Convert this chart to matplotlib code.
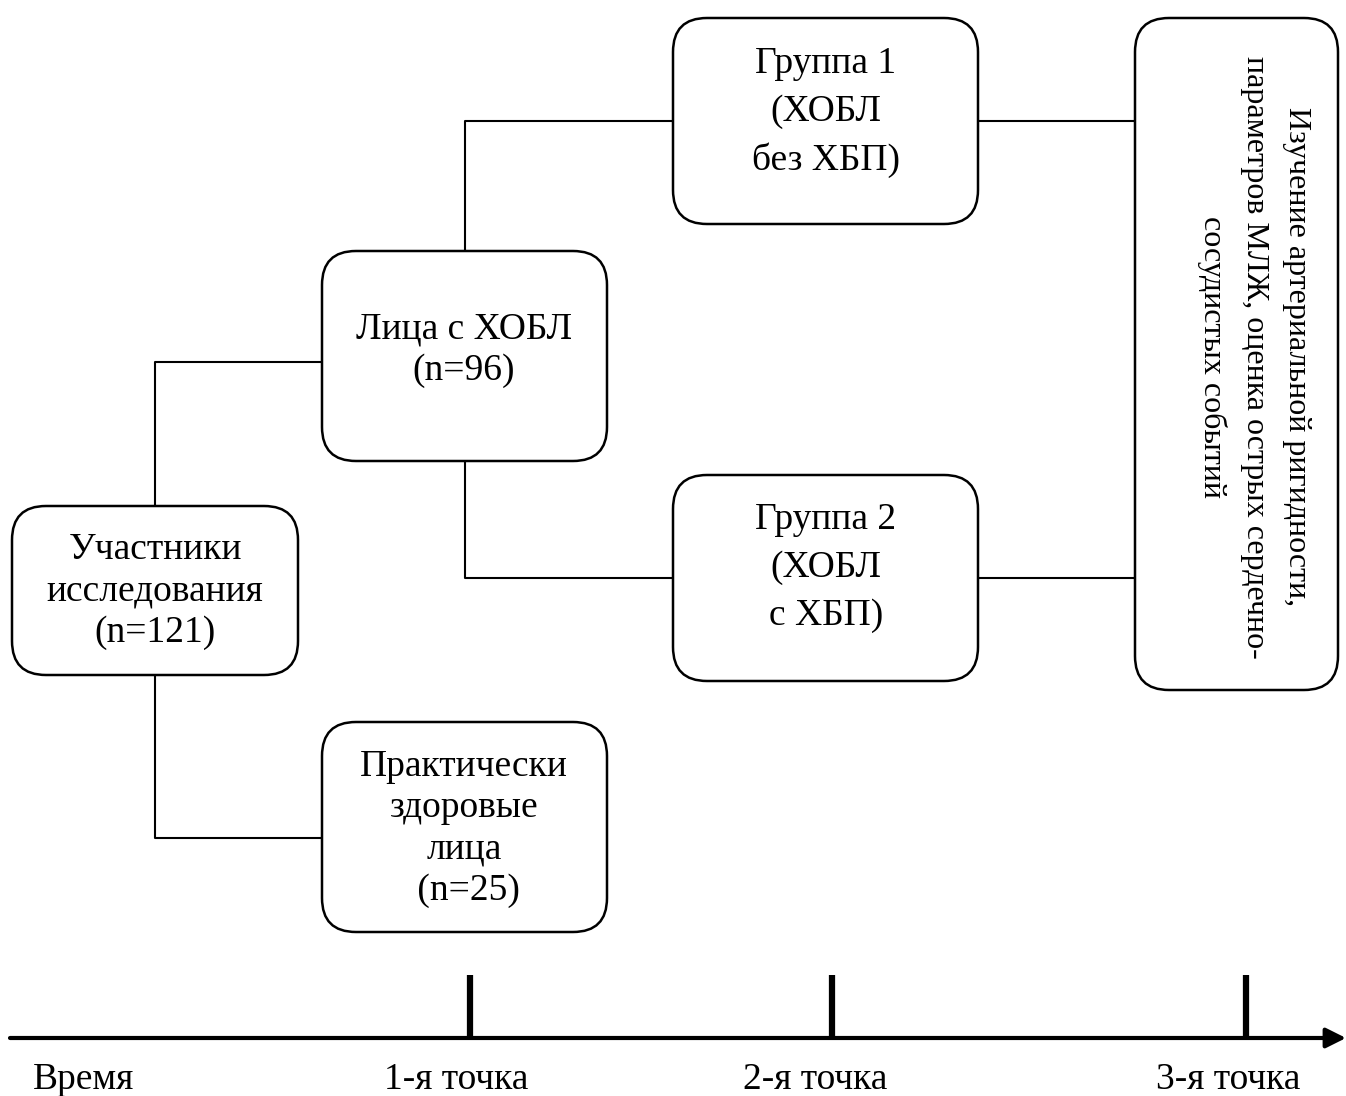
import matplotlib
matplotlib.use("Agg")
import matplotlib.pyplot as plt
from matplotlib.patches import FancyBboxPatch, FancyArrowPatch

plt.rcParams['font.family'] = ['Liberation Serif', 'DejaVu Serif']

# Box labels
box_labels = [
    "Участники\nисследования\n(n=121)",
    "Лица с ХОБЛ\n(n=96)",
    "Практически\nздоровые\nлица\n (n=25)",
    "Группа 1\n(ХОБЛ\nбез ХБП)",
    "Группа 2\n(ХОБЛ\nс ХБП)",
]
final_label = ("Изучение артериальной ригидности,\n"
               "параметров МЛЖ, оценка острых сердечно-\n"
               "сосудистых событий")
time_labels = ["Время", "1-я точка", "2-я точка", "3-я точка"]

# Layout (pixel coordinates: x0, y0, x1, y1), last-line baselines, line spacing
boxes = [
    (12, 506, 298, 675),
    (322, 251, 607, 461),
    (322, 722, 607, 932),
    (673, 18, 978, 224),
    (673, 475, 978, 681),
]
text_pos = [(155, 642), (464, 380), (464, 900), (826, 170), (826, 625)]
line_sp = [1.26, 1.26, 1.26, 1.5, 1.5]
final_box = (1135, 18, 1338, 690)
final_text_pos = (1254, 357)
tick_x = [470, 832, 1246]
label_x = [83, 456, 815, 1228]

W, H = 1346, 1096
fig = plt.figure(figsize=(W / 100, H / 100), dpi=100)
ax = fig.add_axes([0, 0, 1, 1])
ax.set_xlim(0, W)
ax.set_ylim(H, 0)
ax.axis('off')

FS = 27
R = 34

def rbox(b, lw=1.8):
    x0, y0, x1, y1 = b
    p = FancyBboxPatch((x0 + R, y0 + R), (x1 - x0) - 2 * R, (y1 - y0) - 2 * R,
                       boxstyle=f"round,pad={R}", fc='white', ec='black', lw=lw,
                       zorder=3)
    ax.add_patch(p)

for b, t, (tx, ty), ls in zip(boxes, box_labels, text_pos, line_sp):
    rbox(b)
    ax.text(tx, ty, t, ha='center', va='baseline', fontsize=FS,
            linespacing=ls, zorder=4)

rbox(final_box)
ax.text(final_text_pos[0], final_text_pos[1], final_label, ha='center', va='center',
        fontsize=23, rotation=-90, linespacing=1.58, multialignment='center', zorder=4)

# Connectors
lc = dict(color='black', lw=1.5, zorder=1)
b0, b1, b2, b3, b4 = boxes
mid0 = (b0[0] + b0[2]) / 2
mid1 = (b1[0] + b1[2]) / 2
y_l = 362
y_h = 838
ax.plot([mid0, mid0, b1[0]], [b0[1], y_l, y_l], **lc)
ax.plot([mid0, mid0, b2[0]], [b0[3], y_h, y_h], **lc)
y_g1 = (b3[1] + b3[3]) / 2
y_g2 = (b4[1] + b4[3]) / 2
ax.plot([mid1, mid1, b3[0]], [b1[1], y_g1, y_g1], **lc)
ax.plot([mid1, mid1, b4[0]], [b1[3], y_g2, y_g2], **lc)
ax.plot([b3[2], final_box[0]], [y_g1, y_g1], **lc)
ax.plot([b4[2], final_box[0]], [y_g2, y_g2], **lc)

# Timeline
y_axis = 1038
arr = FancyArrowPatch((10, y_axis), (1346, y_axis), arrowstyle='-|>,head_length=12,head_width=6',
                      mutation_scale=1, color='black', lw=3, shrinkA=0, shrinkB=0)
ax.add_patch(arr)
for x in tick_x:
    ax.plot([x, x], [975, y_axis], color='black', lw=4.5, solid_capstyle='butt')
for x, t in zip(label_x, time_labels):
    ax.text(x, 1080, t, ha='center', va='center', fontsize=FS)

fig.savefig("out.png", dpi=100)
